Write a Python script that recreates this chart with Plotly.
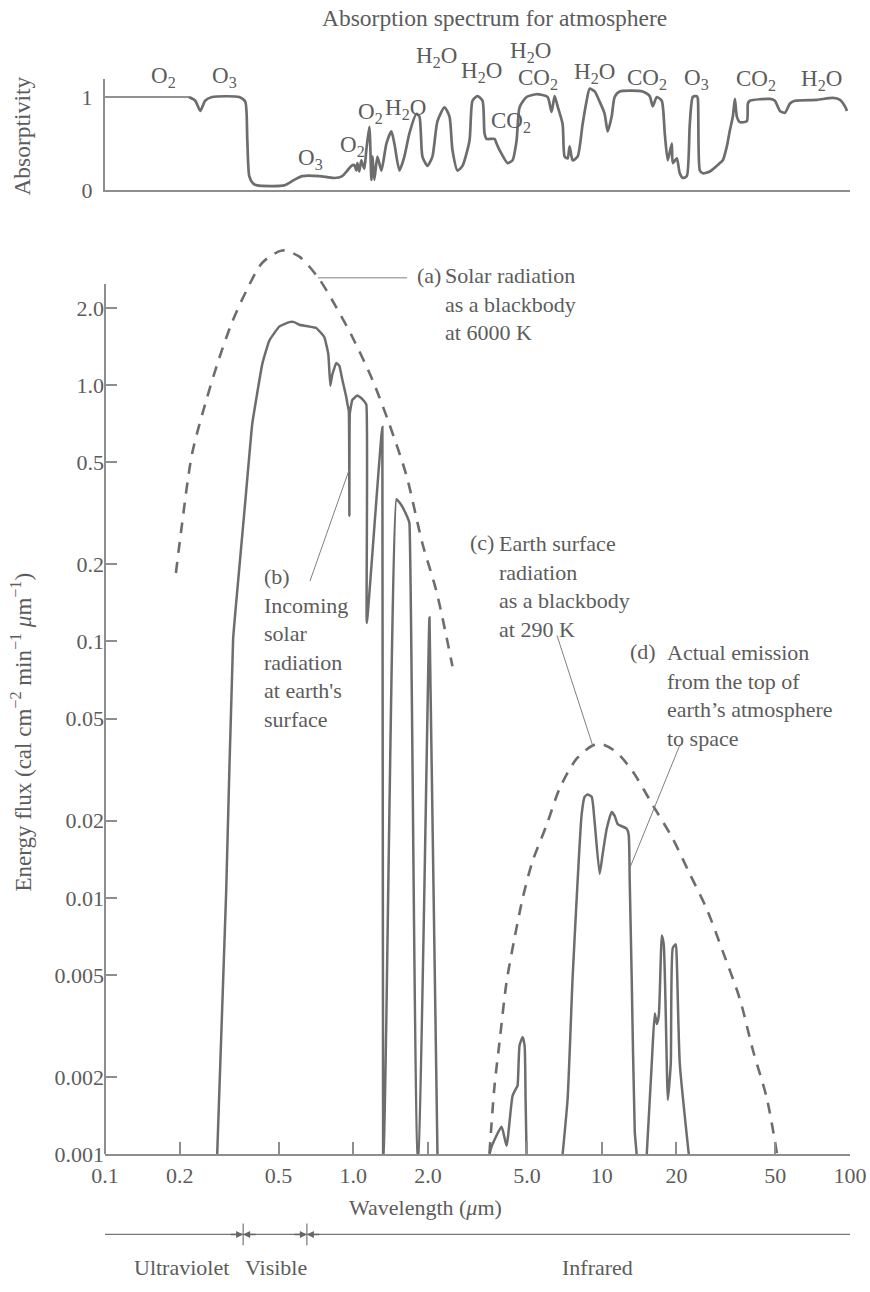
import math
import plotly.graph_objects as go

# ---------------------------------------------------------------- data
# Atmospheric absorptivity: (wavelength in µm, absorptivity 0-1)
absorptivity = [
    (0.100, 1.00), (0.218, 1.00), (0.231, 0.96), (0.242, 0.85), (0.253, 0.96),
    (0.270, 1.00), (0.347, 1.00), (0.367, 0.95), (0.374, 0.55), (0.381, 0.15),
    (0.395, 0.07), (0.410, 0.05), (0.527, 0.05), (0.578, 0.11), (0.623, 0.15),
    (0.729, 0.15), (0.838, 0.13), (0.903, 0.15), (0.946, 0.21), (0.982, 0.26),
    (1.009, 0.27), (1.028, 0.21), (1.038, 0.29), (1.057, 0.20), (1.077, 0.32),
    (1.107, 0.23), (1.128, 0.43), (1.160, 0.68), (1.182, 0.11), (1.193, 0.36),
    (1.215, 0.11), (1.250, 0.36), (1.297, 0.21), (1.359, 0.50), (1.423, 0.63),
    (1.463, 0.50), (1.533, 0.21), (1.605, 0.36), (1.682, 0.61), (1.795, 0.82),
    (1.846, 0.79), (1.898, 0.36), (1.988, 0.26), (2.082, 0.36), (2.182, 0.74),
    (2.328, 0.89), (2.439, 0.79), (2.507, 0.43), (2.627, 0.21), (2.751, 0.26),
    (2.936, 0.53), (3.019, 0.96), (3.162, 1.01), (3.313, 0.96), (3.375, 0.61),
    (3.439, 0.55), (3.703, 0.55), (3.773, 0.50), (3.879, 0.43), (4.178, 0.29),
    (4.377, 0.32), (4.543, 0.53), (4.671, 0.89), (4.984, 1.00), (5.469, 1.03),
    (6.057, 1.00), (6.286, 0.84), (6.464, 1.01), (6.647, 0.90), (6.962, 0.71),
    (7.093, 0.36), (7.294, 0.34), (7.430, 0.47), (7.640, 0.32), (8.003, 0.36),
    (8.382, 0.71), (8.700, 0.96), (8.945, 1.09), (9.371, 1.06), (9.815, 0.95),
    (10.28, 0.82), (10.57, 0.63), (10.97, 0.79), (11.28, 1.00), (11.82, 1.06),
    (14.63, 1.06), (15.61, 1.01), (16.06, 0.90), (16.67, 1.00), (17.46, 0.96),
    (17.95, 0.61), (18.46, 0.32), (19.16, 0.50), (19.34, 0.29), (20.07, 0.34),
    (20.63, 0.18), (21.22, 0.13), (22.02, 0.15), (22.64, 0.71), (23.28, 1.00),
    (24.16, 1.01), (24.40, 0.98), (24.85, 0.21), (25.55, 0.18), (27.26, 0.20),
    (29.92, 0.29), (30.76, 0.32), (31.92, 0.47), (32.82, 0.64), (33.75, 0.79),
    (34.39, 0.98), (35.03, 0.79), (36.02, 0.73), (38.44, 0.74), (38.80, 0.93),
    (39.53, 0.96), (47.58, 0.98), (49.85, 0.96), (52.22, 0.85), (54.70, 0.83),
    (57.31, 0.93), (60.01, 0.96), (73.61, 0.97), (85.41, 0.99), (91.14, 0.97),
    (95.46, 0.90), (97.25, 0.85),
]

# (a) solar radiation as a 6000 K blackbody: (µm, cal cm^-2 min^-1 µm^-1)
solar_blackbody = [
    (0.193, 0.185), (0.2025, 0.269), (0.224, 0.537), (0.256, 0.875), (0.288, 1.27),
    (0.325, 1.76), (0.370, 2.32), (0.430, 3.00), (0.517, 3.35), (0.606, 3.17),
    (0.729, 2.59), (0.854, 2.01), (0.991, 1.54), (1.193, 1.05), (1.397, 0.703),
    (1.636, 0.444), (1.898, 0.241), (2.161, 0.157), (2.507, 0.080),
]

# (b) incoming solar radiation at the earth's surface
solar_surface = [
    (0.283, 0.001), (0.3075, 0.0105), (0.328, 0.102), (0.347, 0.191), (0.370, 0.382),
    (0.3915, 0.703), (0.430, 1.21), (0.4585, 1.49), (0.503, 1.69), (0.552, 1.76),
    (0.578, 1.76), (0.606, 1.72), (0.6465, 1.70), (0.709, 1.67), (0.764, 1.54),
    (0.793, 1.32), (0.808, 0.994), (0.823, 1.10), (0.854, 1.22), (0.878, 1.19),
    (0.903, 1.05), (0.937, 0.896), (0.946, 0.847), (0.959, 0.794), (0.964, 0.309),
    (0.968, 0.775), (0.991, 0.875), (1.038, 0.911), (1.087, 0.882), (1.128, 0.840),
    (1.133, 0.118), (1.309, 0.686), (1.318, 0.001), (1.325, 0.001), (1.491, 0.359),
    (1.562, 0.340), (1.651, 0.305), (1.682, 0.290), (1.812, 0.001), (1.829, 0.001),
    (2.026, 0.124), (2.182, 0.001),
]

# (c) earth surface radiation as a 290 K blackbody
earth_blackbody = [
    (3.534, 0.00101), (3.601, 0.00131), (3.703, 0.00185), (3.879, 0.00274),
    (4.139, 0.00469), (4.459, 0.00697), (4.803, 0.00994), (5.270, 0.0139),
    (5.999, 0.0192), (6.771, 0.0267), (7.929, 0.0349), (9.199, 0.0393),
    (10.09, 0.0397), (11.50, 0.0369), (13.34, 0.0311), (16.06, 0.0230),
    (19.34, 0.0170), (22.64, 0.0124), (26.51, 0.00904), (30.76, 0.00617),
    (36.02, 0.00403), (40.63, 0.00255), (46.27, 0.00165), (50.78, 0.00101),
]

# (d) actual emission from the top of the atmosphere (three separate bands)
earth_emission = [
    (3.534, 0.001), (3.601, 0.00107), (3.953, 0.00128), (4.139, 0.00108),
    (4.377, 0.00169), (4.543, 0.00182), (4.585, 0.00185), (4.671, 0.00266),
    (4.803, 0.00286), (4.893, 0.00266), (4.938, 0.00165), (4.984, 0.001),
    (None, None),
    (6.962, 0.001), (7.294, 0.00165), (7.640, 0.00490), (8.003, 0.0117),
    (8.304, 0.0211), (8.539, 0.0248), (8.780, 0.0253), (9.114, 0.0248),
    (9.371, 0.0197), (9.815, 0.0124), (10.09, 0.0148), (10.48, 0.0186),
    (10.97, 0.0216), (11.28, 0.0209), (11.60, 0.0194), (12.62, 0.0186),
    (12.85, 0.0176), (12.97, 0.0117), (13.21, 0.00490), (13.59, 0.00123),
    (13.84, 0.001),
    (None, None),
    (15.19, 0.001), (15.91, 0.00226), (16.36, 0.00355), (16.67, 0.00322),
    (16.98, 0.00347), (17.29, 0.00569), (17.46, 0.00714), (17.78, 0.00659),
    (18.29, 0.00226), (18.46, 0.00163), (18.98, 0.00226), (19.34, 0.00638),
    (19.89, 0.00659), (20.07, 0.00569), (20.63, 0.00226), (22.43, 0.001),
]

wavelength_ticks = [0.1, 0.2, 0.5, 1, 2, 5, 10, 20, 50, 100]
wavelength_ticktext = ["0.1", "0.2", "0.5", "1.0", "2.0", "5.0", "10", "20", "50", "100"]
flux_ticks = [0.001, 0.002, 0.005, 0.01, 0.02, 0.05, 0.1, 0.2, 0.5, 1, 2]
flux_ticktext = ["0.001", "0.002", "0.005", "0.01", "0.02", "0.05",
                 "0.1", "0.2", "0.5", "1.0", "2.0"]
band_edges = [0.36, 0.65]          # ultraviolet | visible | infrared (µm)

# ---------------------------------------------------------------- style
W, H = 870, 1292
ML, MR = 105, 20
FONT = "Liberation Serif, Times New Roman, serif"
INK = "#5c5c5c"
CURVE = "#6d6d6d"
AXIS = "#8e8e8e"


def paper(xpx, ypx):
    """Canvas pixel position -> paper coordinates (margins t=b=0)."""
    return (xpx - ML) / (W - ML - MR), 1 - ypx / H


def unzip(pairs):
    xs = [p[0] for p in pairs]
    ys = [p[1] for p in pairs]
    return xs, ys


fig = go.Figure()

ax_, ay_ = unzip(absorptivity)
# the far-UV plateau is drawn with a finer pen than the band structure
fig.add_trace(go.Scatter(x=ax_[:2], y=ay_[:2], xaxis="x", yaxis="y", mode="lines",
                         line=dict(color=CURVE, width=1.6)))
fig.add_trace(go.Scatter(x=ax_[1:], y=ay_[1:], xaxis="x", yaxis="y", mode="lines",
                         line=dict(color=CURVE, width=2.7, shape="spline", smoothing=0.6)))

bx, by = unzip(solar_blackbody)
fig.add_trace(go.Scatter(x=bx, y=by, xaxis="x2", yaxis="y2", mode="lines",
                         line=dict(color=CURVE, width=2.6, dash="11px,9px",
                                   shape="spline", smoothing=0.8)))

sx, sy = unzip(solar_surface)
fig.add_trace(go.Scatter(x=sx, y=sy, xaxis="x2", yaxis="y2", mode="lines",
                         line=dict(color=CURVE, width=2.5, shape="spline", smoothing=0.3)))

ex, ey = unzip(earth_blackbody)
fig.add_trace(go.Scatter(x=ex, y=ey, xaxis="x2", yaxis="y2", mode="lines",
                         line=dict(color=CURVE, width=2.6, dash="11px,9px",
                                   shape="spline", smoothing=0.8)))

dx, dy = unzip(earth_emission)
fig.add_trace(go.Scatter(x=dx, y=dy, xaxis="x2", yaxis="y2", mode="lines",
                         connectgaps=False,
                         line=dict(color=CURVE, width=2.5, shape="spline", smoothing=0.5)))

top_lo, top_hi = paper(0, 192)[1], paper(0, 80)[1]
bot_lo, bot_hi = paper(0, 1166)[1], paper(0, 240)[1]
flux_top = -3 + (1166 - 240) / 259.0

tickfont = dict(family=FONT, size=22, color=INK)

fig.update_layout(
    width=W, height=H,
    margin=dict(l=ML, r=MR, t=0, b=0),
    paper_bgcolor="white", plot_bgcolor="white",
    showlegend=False,
    font=dict(family=FONT, color=INK, size=22),
    xaxis=dict(type="log", range=[-1, 2], domain=[0, 1], anchor="y",
               showline=True, linecolor=AXIS, linewidth=2, showgrid=False,
               zeroline=False, ticks="", showticklabels=False),
    yaxis=dict(range=[0, 112 / 94], domain=[top_lo, top_hi], anchor="x",
               showline=True, linecolor=AXIS, linewidth=2, showgrid=False,
               zeroline=False, ticks="", tickvals=[0, 1], ticktext=["0", "1"],
               tickfont=tickfont, ticklabelstandoff=6),
    xaxis2=dict(type="log", range=[-1, 2], domain=[0, 1], anchor="y2",
                showline=True, linecolor=AXIS, linewidth=2, showgrid=False,
                zeroline=False, ticks="inside", ticklen=12, tickwidth=1.5,
                tickcolor=AXIS, tickvals=wavelength_ticks,
                ticktext=wavelength_ticktext, tickfont=tickfont),
    yaxis2=dict(type="log", range=[-3, flux_top], domain=[bot_lo, bot_hi],
                anchor="x2", showline=False, showgrid=False, zeroline=False,
                ticks="inside", ticklen=12, tickwidth=1.5, tickcolor=AXIS,
                tickvals=flux_ticks, ticktext=flux_ticktext, tickfont=tickfont),
)

shapes = []
# vertical axis line of the flux panel, stopping just above 2.0
shapes.append(dict(type="line", xref="paper", yref="y2", x0=0, x1=0,
                   y0=0.001, y1=2.48, line=dict(color=AXIS, width=2)))

# leader lines from the curve labels to the curves
thin = dict(color="#808080", width=1)
for (x0, y0, x1, y1) in [(0.72, 2.62, 1.646, 2.62),
                         (0.964, 0.47, 0.669, 0.172),
                         (6.61, 0.1055, 9.2, 0.0393),
                         (20.7, 0.0397, 12.95, 0.013)]:
    shapes.append(dict(type="line", xref="x2", yref="y2",
                       x0=x0, y0=y0, x1=x1, y1=y1, line=thin))

# spectral band ruler below the wavelength axis
band_y = paper(0, 1247)[1]
shapes.append(dict(type="line", xref="x2", yref="paper", x0=0.1, x1=100,
                   y0=band_y, y1=band_y, line=dict(color="#777", width=1.2)))
for edge in band_edges:
    shapes.append(dict(type="line", xref="x2", yref="paper", x0=edge, x1=edge,
                       y0=paper(0, 1258)[1], y1=paper(0, 1236)[1],
                       line=dict(color="#777", width=1.2)))

annotations = []


def text(t, xpx, ypx, size=22, xanchor="center", yanchor="middle", angle=0):
    xp, yp = paper(xpx, ypx)
    annotations.append(dict(text=t, x=xp, y=yp, xref="paper", yref="paper",
                            xanchor=xanchor, yanchor=yanchor, showarrow=False,
                            align="left", textangle=angle,
                            font=dict(family=FONT, size=size, color=INK)))


text("Absorption spectrum for atmosphere", 494, 18, size=23.5)
text("Absorptivity", 22, 138, size=23.5, angle=-90)
text("Energy flux (cal cm<sup>−2</sup> min<sup>−1</sup> <i>μ</i>m<sup>−1</sup>)",
     22, 740, size=23, angle=-90)
text("Wavelength (<i>μ</i>m)", 425, 1220, size=22)

# absorbing gases above the absorption bands
gas_labels = [
    ("O<sub>2</sub>", 163, 75), ("O<sub>3</sub>", 224, 75), ("O<sub>3</sub>", 310, 158),
    ("O<sub>2</sub>", 352, 144), ("O<sub>2</sub>", 370, 111), ("H<sub>2</sub>O", 405, 107),
    ("H<sub>2</sub>O", 436, 55), ("H<sub>2</sub>O", 481, 70), ("H<sub>2</sub>O", 530, 50),
    ("CO<sub>2</sub>", 538, 77), ("CO<sub>2</sub>", 511, 120), ("H<sub>2</sub>O", 594, 71),
    ("CO<sub>2</sub>", 647, 77), ("O<sub>3</sub>", 696, 77), ("CO<sub>2</sub>", 756, 78),
    ("H<sub>2</sub>O", 821, 78),
]
for t, xpx, ypx in gas_labels:
    text(t, xpx, ypx + 3, size=23)

# curve descriptions
text("(a)", 415, 278, xanchor="left")
text("Solar radiation<br>as a blackbody<br>at 6000 K", 443, 264,
     xanchor="left", yanchor="top")
text("(b)<br>Incoming<br>solar<br>radiation<br>at earth's<br>surface", 262, 568,
     xanchor="left", yanchor="top")
text("(c)", 468, 548, xanchor="left")
text("Earth surface<br>radiation<br>as a blackbody<br>at 290 K", 497, 534,
     xanchor="left", yanchor="top")
text("(d)", 628, 658, xanchor="left")
text("Actual emission<br>from the top of<br>earth’s atmosphere<br>to space", 665, 644,
     xanchor="left", yanchor="top")

# band names
text("Ultraviolet", 181, 1280)
text("Visible", 276, 1280)
text("Infrared", 597, 1280)

# arrowheads pointing at the band edges from both sides
for edge in band_edges:
    for off in (-14, 14):
        annotations.append(dict(text="", x=math.log10(edge), y=band_y,
                                xref="x2", yref="paper", ax=off, ay=0,
                                showarrow=True, arrowhead=2, arrowsize=1,
                                arrowwidth=1.4, arrowcolor="#666", standoff=0,
                                font=dict(family=FONT, size=12, color=INK)))

fig.update_layout(shapes=shapes, annotations=annotations)
fig.write_html("out.html")
